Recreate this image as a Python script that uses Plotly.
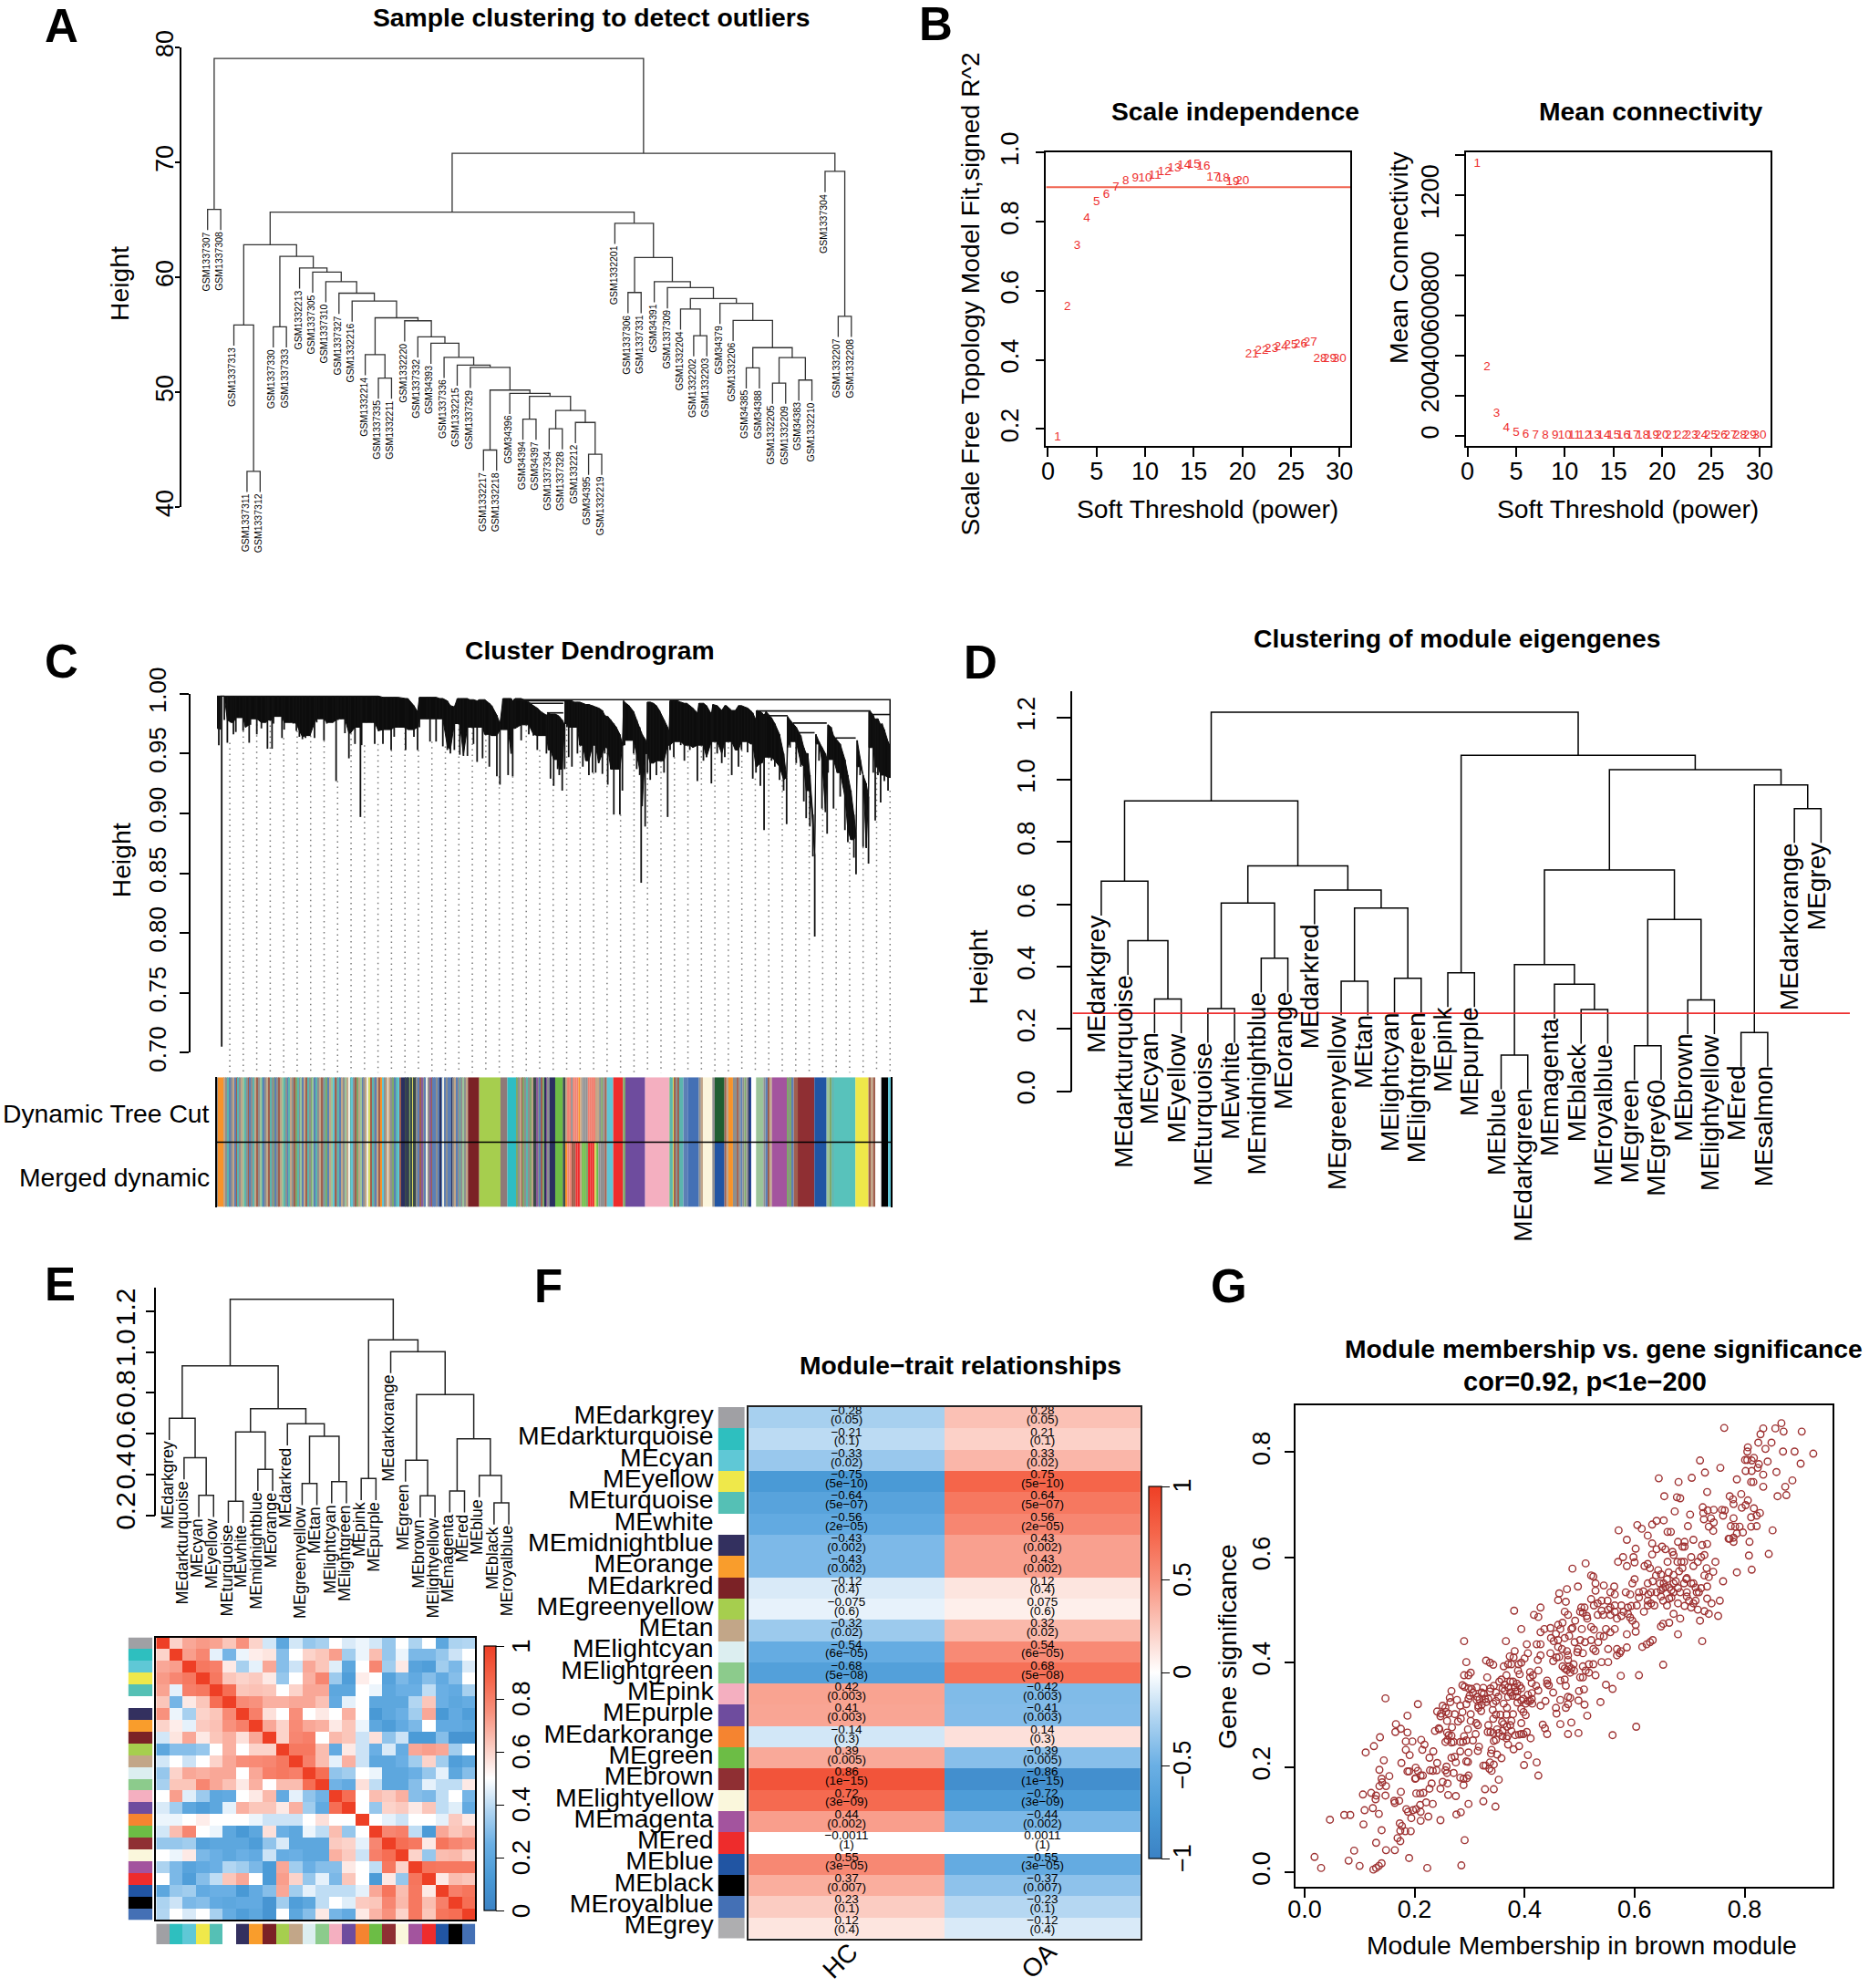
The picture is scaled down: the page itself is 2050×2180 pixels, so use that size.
import plotly.graph_objects as go

W, H = 2050, 2180
FONT = "Liberation Sans"
RED = "#EE2F2F"

# ---- A: sample tree
samples = ["GSM1337307","GSM1337308","GSM1337313","GSM1337311","GSM1337312","GSM1337330","GSM1337333","GSM1332213",
           "GSM1337305","GSM1337310","GSM1337327","GSM1332216","GSM1332214","GSM1337335","GSM1332211","GSM1332220",
           "GSM1337332","GSM34393","GSM1337336","GSM1332215","GSM1337329","GSM1332217","GSM1332218","GSM34396",
           "GSM34394","GSM34397","GSM1337334","GSM1337328","GSM1332212","GSM34395","GSM1332219","GSM1332201",
           "GSM1337306","GSM1337331","GSM34391","GSM1337309","GSM1332204","GSM1332202","GSM1332203","GSM34379",
           "GSM1332206","GSM34385","GSM34388","GSM1332205","GSM1332209","GSM34383","GSM1332210","GSM1337304",
           "GSM1332207","GSM1332208"]
# hclust style: negative = leaf number, positive = earlier merge row
sample_merge = [(-1,-2,65.90),(-4,-5,43.11),(-3,2,55.85),(-6,-7,55.69),(-14,-15,51.22),(-13,5,53.26),(-22,-23,44.96),
                (-25,-26,47.65),(-27,-28,46.81),(-30,-31,44.60),(-29,10,47.36),(9,11,48.40),(8,12,49.63),(-24,13,49.89),
                (7,14,50.18),(-21,15,52.16),(-20,16,52.35),(-19,17,53.03),(-18,18,54.26),(-17,19,54.81),(-16,20,56.21),
                (6,21,56.47),(-12,22,57.93),(-11,23,58.61),(-10,24,59.61),(-9,25,60.45),(-8,26,60.81),(4,27,61.82),
                (3,28,62.82),(-33,-34,58.67),(-38,-39,54.91),(-37,31,57.24),(-42,-43,52.12),(-44,-45,50.79),
                (-46,-47,51.05),(34,35,53.00),(33,36,53.87),(-41,37,56.24),(-40,38,57.73),(32,39,58.15),(-36,40,59.09),
                (-35,41,59.61),(30,42,61.72),(-32,43,64.70),(29,44,65.67),(-49,-50,56.60),(-48,46,69.21),(45,47,70.79),
                (1,48,79.03)]

# ---- B: soft threshold
powers = list(range(1, 31))
scale_fit = [.177,.554,.731,.809,.856,.878,.900,.916,.925,.925,.932,.944,.954,.961,.966,.959,.928,.924,.914,.916,
             .417,.426,.433,.438,.443,.445,.449,.402,.403,.404]
mean_conn = [1358,345,111,37,15,6,3,2,1,1,1,1,1,1,1,1,1,0,0,0,0,0,0,0,0,0,0,0,0,0]

# ---- C: gene tree, (position %, top height, bottom height) read along the tree
tree_rows = [(0,.998,.971),(.27,.998,.957),(.5,.998,.970),(.6,.998,.998),(.7,.998,.705),(.92,.998,.998),(1.09,.998,.978),
 (1.54,.998,.959),(2.08,.998,.976),(2.44,.998,.966),(2.8,.998,.968),(3.34,.998,.980),(3.88,.998,.969),(4.24,.998,.972),
 (4.78,.998,.959),(4.96,.998,.974),(5.69,.998,.979),(5.91,.998,.966),(6.59,.998,.971),(7.26,.998,.976),(7.49,.998,.954),
 (7.7,.998,.978),(8.17,.998,.954),(8.39,.998,.975),(9.07,.998,.981),(9.65,.998,.963),(9.97,.998,.970),(10.74,.998,.976),
 (11.32,.998,.975),(11.78,.998,.969),(12.23,.998,.964),(12.68,.998,.962),(13.13,.998,.963),(13.8,.998,.965),(14.48,.998,.963),
 (14.8,.998,.976),(15.16,.998,.979),(15.88,.998,.961),(16.3,.998,.975),(17.19,.998,.976),(17.68,.998,.927),(17.95,.998,.978),
 (18.4,.998,.979),(18.99,.998,.967),(19.58,.998,.946),(19.8,.998,.967),(20.48,.998,.958),(20.93,.998,.972),(21.29,.998,.897),
 (21.47,.998,.957),(22.15,.998,.976),(23.05,.998,.976),(23.41,.998,.958),(23.95,.998,.969),(24.63,.997,.958),(25.17,.997,.970),
 (25.85,.997,.953),(26.3,.997,.964),(26.88,.997,.972),(28.0,.996,.953),(28.33,.996,.970),(29.23,.990,.964),(29.77,.985,.953),
 (30.04,.997,.972),(31.17,.997,.979),(31.62,.997,.960),(32.52,.997,.960),(33.06,.996,.979),(33.52,.996,.956),(34.19,.994,.953),
 (34.64,.990,.950),(35.23,.989,.953),(35.68,.996,.975),(36.04,.996,.949),(36.58,.996,.948),(37.17,.996,.948),(37.49,.995,.972),
 (38.07,.995,.958),(38.61,.994,.943),(38.93,.995,.972),(39.42,.995,.946),(39.74,.995,.966),(40.42,.992,.939),(40.78,.990,.965),
 (41.54,.982,.931),(42.0,.975,.924),(42.45,.996,.970),(43.21,.996,.932),(43.66,.996,.950),(43.89,.994,.931),(44.25,.996,.971),
 (45.15,.996,.961),(45.6,.995,.974),(46.28,.993,.966),(46.96,.990,.965),(47.54,.988,.953),(48.09,.985,.965),(48.9,.982,.950),
 (49.2,.984,.953),(49.5,.983,.929),(49.97,.983,.923),(50.2,.983,.945),(50.56,.982,.937),(50.8,.981,.932),(51.24,.978,.919),
 (51.6,.974,.937),(51.69,.994,.975),(51.95,.994,.972),(52.2,.994,.947),(52.68,.994,.939),(53.04,.993,.972),(53.5,.993,.950),
 (53.85,.993,.957),(54.3,.992,.939),(54.75,.991,.944),(55.2,.991,.932),(55.75,.990,.934),(56.1,.989,.957),(56.2,.989,.934),
 (56.65,.988,.942),(57.2,.986,.933),(57.55,.982,.950),(57.8,.981,.955),(58.0,.981,.924),(58.45,.978,.937),(58.9,.975,.899),
 (59.27,.972,.937),(59.8,.966,.899),(60.17,.958,.919),(60.35,.994,.957),(60.5,.993,.957),(61.16,.990,.961),(61.84,.985,.950),
 (62.3,.978,.937),(62.74,.972,.932),(62.96,.968,.842),(63.1,.966,.906),(63.55,.962,.889),(63.78,.958,.950),(63.9,.993,.934),
 (64.3,.993,.928),(64.77,.992,.942),(65.22,.990,.932),(65.67,.986,.944),(66.35,.978,.934),(66.89,.972,.897),(67.1,.968,.957),
 (67.25,.994,.953),(67.8,.994,.947),(68.38,.994,.960),(68.83,.993,.957),(69.37,.992,.944),(69.73,.992,.957),(70.18,.990,.953),
 (70.63,.988,.955),(71.3,.984,.927),(71.55,.992,.957),(72.2,.992,.944),(72.66,.990,.947),(73.38,.983,.925),(73.6,.991,.960),
 (74.24,.990,.950),(74.92,.986,.942),(75.37,.990,.947),(75.6,.990,.960),(76.4,.986,.932),(76.94,.986,.953),(77.4,.990,.939),
 (77.85,.990,.953),(78.3,.989,.960),(78.75,.988,.951),(79.2,.986,.958),(79.52,.984,.929),(80.0,.978,.934),(80.1,.986,.939),
 (80.65,.985,.923),(80.9,.984,.942),(81.2,.982,.886),(81.5,.985,.947),(82.3,.980,.944),(82.8,.975,.939),(83.5,.966,.928),
 (84.1,.950,.919),(84.55,.930,.891),(84.7,.981,.955),(85.06,.978,.955),(85.5,.975,.960),(85.97,.972,.942),(86.65,.965,.939),
 (87.1,.955,.910),(87.45,.950,.896),(87.7,.950,.919),(88.0,.932,.889),(88.45,.899,.864),(88.72,.866,.797),(88.9,.966,.958),
 (89.35,.960,.944),(89.8,.955,.904),(90.3,.950,.901),(90.56,.945,.883),(90.7,.974,.934),(91.15,.972,.945),(91.51,.965,.904),
 (92.06,.961,.934),(92.5,.958,.914),(93.2,.945,.886),(93.63,.932,.876),(94.08,.919,.878),(94.53,.899,.863),(94.85,.882,.849),
 (95.02,.961,.939),(95.45,.945,.932),(95.9,.932,.872),(96.36,.925,.871),(96.7,.914,.858),(96.8,.985,.955),(97.0,.985,.955),
 (97.4,.982,.934),(97.7,.978,.894),(97.8,.979,.939),(98.1,.979,.932),(98.5,.974,.909),(98.7,.975,.932),(99.05,.970,.927),
 (99.6,.960,.919),(100,.955,.930)]
# connecting branches above the clusters (from %, to %, height)
tree_links = [(44,100,.995),(45,51.69,.994),(46.3,51.4,.992),(48.98,51.4,.984),(80.1,97,.9856),(97,100,.9826),
              (80.8,84.7,.9816),(85.5,90.5,.9755),(86.4,88.7,.9674),(91.8,94.8,.963)]

palette = {"s":"#8E8F90","o":"#F7932B","t":"#5BB5AE","b":"#5C7FB5","n":"#C2A688","r":"#A0604E","g":"#7FA86A",
           "l":"#9CC49A","p":"#8A5A9A","c":"#5FC5D5","k":"#2A3060","y":"#D8D860","w":"#EFEFE4","m":"#A3549E",
           "f":"#F08070","d":"#3A4A4C","R":"#7B2226","G":"#A6CE4E","M":"#8F7A78","C":"#2EBDC4","V":"#6CBD45",
           "E":"#EE2C2C","P":"#6E4C9E","K":"#F4AFC0","B":"#4470B5","L":"#FBF5DC","D":"#1F3F8F","W":"#FFFFFF",
           "N":"#8F2F33","A":"#2155A3","T":"#58C2BB","Y":"#EFE84A","X":"#000000","Z":"#1F5E32"}
left_stripes = "nstbsnbrtsnltsrbstnrsltbsnrtsgbsrnltsbtnsrgtslbnrtsglbtsnrstgbnlcrstbnslnwtcsrgnlbsnwyrtsbnrocsnwnsgbtcr"
mid_stripes = "sbrpsbwsprbbsbkbwbsbbksnbstslsn"
zones_head = [(0,.13,"s"),(.13,1.08,"o"),(1.08,27.33,left_stripes),(27.33,28,"k"),(28,29.6,"dkdgdydd"),(29.6,37.25,mid_stripes),
              (37.25,38.92,"R"),(38.92,42.08,"G"),(42.08,43.1,"M"),(43.1,44.47,"C"),(44.47,46.95,"gsnrgstsgn"),(46.95,47.4,"d"),
              (47.4,49.34,"psbrgkps"),(49.34,50.2,"k"),(50.2,51.33,"V"),(51.33,51.69,"d")]
zones_mix_dyn = [(51.69,57.55,"nffsfffonsssffffnnsgs")]
zones_mix_mer = [(51.69,57.55,"offrrEEnVVgEEEyVsss")]
zones_mid = [(57.55,57.87,"r"),(57.87,58.81,"c"),(58.81,60.26,"E"),(60.26,60.62,"g"),(60.62,63.55,"P"),(63.55,67.11,"K"),
             (67.11,67.92,"lty"),(67.92,68.6,"rsr"),(68.6,69.86,"tb"),(69.86,71.53,"B"),(71.53,72.12,"sn"),(72.12,73.52,"L"),(73.52,73.88,"s")]
zones_dyn_gene = [(73.88,75.32,"Z")]
zones_mer_gene = [(73.88,75.32,"A")]
zones_tail = [(75.32,75.91,"rn"),(75.91,76.58,"o"),(76.58,79.11,"ssrsbsgsk"),(79.11,79.29,"D"),(79.29,80.01,"W"),(80.01,81.1,"l"),
              (81.1,82.36,"sbrn"),(82.36,84.62,"m"),(84.62,85.6,"gsgb"),(85.6,86.2,"r"),(86.2,88.67,"N"),(88.67,90.48,"A"),
              (90.48,91.6,"lgt"),(91.6,94.76,"T"),(94.76,96.7,"Y"),(96.7,97.7,"rnr"),(97.7,98.6,"W"),(98.6,99.6,"X"),(99.6,100,"c")]

# ---- D: eigengene tree
d_labels = ["MEdarkgrey","MEdarkturquoise","MEcyan","MEyellow","MEturquoise","MEwhite","MEmidnightblue","MEorange","MEdarkred",
            "MEgreenyellow","MEtan","MElightcyan","MElightgreen","MEpink","MEpurple","MEblue","MEdarkgreen","MEmagenta","MEblack",
            "MEroyalblue","MEgreen","MEgrey60","MEbrown","MElightyellow","MEred","MEsalmon","MEdarkorange","MEgrey"]
d_merge = [(-3,-4,.296),(-2,1,.483),(-1,2,.674),(-5,-6,.265),(-7,-8,.427),(4,5,.604),(-10,-11,.353),(-12,-13,.362),(7,8,.588),
           (-9,9,.646),(6,10,.723),(3,11,.932),(-14,-15,.380),(-16,-17,.116),(-19,-20,.262),(-18,15,.343),(14,16,.406),
           (-21,-22,.146),(-23,-24,.293),(18,19,.551),(17,20,.710),(-25,-26,.188),(-27,-28,.907),(22,23,.983),(21,24,1.032),
           (13,25,1.078),(12,26,1.217)]

# ---- E: merged eigengene tree and adjacency
e_labels = ["MEdarkgrey","MEdarkturquoise","MEcyan","MEyellow","MEturquoise","MEwhite","MEmidnightblue","MEorange","MEdarkred",
            "MEgreenyellow","MEtan","MElightcyan","MElightgreen","MEpink","MEpurple","MEdarkorange","MEgreen","MEbrown",
            "MElightyellow","MEmagenta","MEred","MEblue","MEblack","MEroyalblue"]
e_merge = [(-3,-4,.297),(-2,1,.4815),(-1,2,.675),(-5,-6,.268),(-7,-8,.425),(4,5,.608),(-10,-11,.355),(-12,-13,.364),(7,8,.587),
           (-9,9,.648),(6,10,.7225),(3,11,.932),(-14,-15,.38),(-20,-21,.319),(-23,-24,.26),(-22,15,.394),(14,16,.574),
           (-18,-19,.295),(-17,18,.47),(19,17,.792),(-16,20,1.002),(13,21,1.06),(12,22,1.259)]
e_colors = ["#A0A0A4","#2EBFBF","#5FC8D6","#EFE84A","#55C0B5","#FFFFFF","#33305F","#F99D2C","#7B2226","#A6CE4E","#C2A688","#DCEEF0",
            "#8CCB8C","#F4AFC0","#6E4C9E","#F58430","#6CBD45","#8F2F33","#FAF7DC","#A3549E","#EE2C2C","#2155A3","#000000","#4470B5"]
adjacency_upper = [
 [1,.6,.7,.73,.71,.63,.75,.6,.43,.2,.43,.33,.36,.5,.44,.47,.43,.33,.5,.37,.5,.2,.37,.38],
 [1,.72,.78,.46,.27,.47,.54,.56,.3,.5,.6,.63,.72,.35,.47,.65,.33,.47,.28,.28,.33,.42,.5],
 [1,.82,.8,.55,.36,.46,.7,.3,.42,.7,.63,.45,.2,.5,.78,.35,.55,.18,.15,.35,.28,.44],
 [1,.82,.63,.6,.62,.55,.33,.5,.68,.78,.34,.15,.54,.5,.17,.28,.22,.3,.22,.3,.5],
 [1,.85,.63,.64,.63,.5,.6,.7,.7,.2,.2,.5,.47,.2,.25,.25,.4,.25,.22,.36],
 [1,.77,.75,.68,.68,.7,.7,.64,.22,.46,.5,.2,.2,.2,.38,.63,.25,.2,.23],
 [1,.8,.57,.5,.76,.5,.55,.5,.68,.5,.12,.2,.25,.35,.7,.12,.22,.15],
 [1,.7,.6,.77,.7,.68,.55,.63,.47,.2,.14,.22,.28,.5,.22,.22,.2],
 [1,.6,.78,.8,.5,.66,.63,.42,.57,.32,.42,.13,.13,.3,.1,.1],
 [1,.82,.82,.65,.22,.55,.42,.25,.44,.23,.7,.72,.7,.35,.5],
 [1,.8,.65,.46,.68,.42,.2,.2,.25,.35,.6,.35,.15,.2],
 [1,.85,.32,.35,.5,.47,.2,.2,.25,.33,.46,.2,.3],
 [1,.26,.22,.57,.4,.2,.2,.3,.46,.4,.4,.55],
 [1,.85,.5,.65,.62,.68,.3,.28,.4,.5,.27],
 [1,.5,.33,.6,.62,.55,.63,.4,.45,.22],
 [1,.5,.46,.42,.5,.5,.46,.62,.55],
 [1,.78,.8,.4,.13,.7,.63,.67],
 [1,.85,.82,.55,.83,.78,.75],
 [1,.6,.33,.65,.66,.6],
 [1,.83,.82,.82,.82],
 [1,.55,.65,.63],
 [1,.8,.83],
 [1,.85],
 [1]]

# ---- F: module-trait table
f_modules = e_labels + ["MEgrey"]
f_colors = e_colors + ["#AEAEB0"]
cor_hc = [-.28,-.21,-.33,-.75,-.64,-.56,-.43,-.43,-.12,-.075,-.32,-.54,-.68,.42,.41,-.14,.39,.86,.72,.44,-.0011,.55,.37,.23,.12]
p_labels = ["0.05","0.1","0.02","5e−10","5e−07","2e−05","0.002","0.002","0.4","0.6","0.02","6e−05","5e−08","0.003","0.003","0.3",
            "0.005","1e−15","3e−09","0.002","1","3e−05","0.007","0.1","0.4"]
traits = ["HC", "OA"]

# ---- G: membership vs significance
gene_points = [(.018,.029),(.030,.008),(.046,.100),(.072,.109),(.083,.109),(.080,.022),(.090,.041),(.100,.012),(.107,.091),(.106,.148),
 (.109,.118),(.111,.228),(.121,.151),(.124,.122),(.125,.005),(.130,.008),(.135,.012),(.140,.017),(.130,.056),(.135,.111),(.129,.139),
 (.130,.146),(.126,.240),(.137,.257),(.136,.195),(.140,.080),(.148,.042),(.164,.042),(.190,.027),(.223,.008),(.285,.013),(.291,.061),
 (.144,.213),(.140,.178),(.141,.171),(.136,.164),(.148,.164),(.147,.146),(.154,.183),(.147,.331),(.166,.282),(.165,.267),(.175,.273),
 (.187,.298),(.187,.266),(.184,.249),(.196,.249),(.206,.320),(.212,.252),(.218,.243),(.214,.233),(.234,.230),(.184,.233),(.191,.223),
 (.176,.208),(.202,.199),(.206,.193),(.187,.192),(.190,.192),(.211,.184),(.215,.184),(.202,.179),(.201,.178),(.203,.150),(.210,.150),
 (.216,.151),(.175,.153),(.164,.132),(.163,.136),(.172,.136),(.185,.120),(.188,.115),(.197,.118),(.203,.120),(.211,.115),(.210,.128),
 (.194,.103),(.211,.098),(.225,.106),(.247,.099),(.173,.093),(.177,.088),(.174,.079),(.183,.078),(.193,.078),(.169,.065),(.174,.059),
 (.221,.133),(.233,.130),(.227,.159),(.231,.169),(.228,.194),(.233,.193),(.227,.218),(.241,.208),(.240,.194),(.251,.172),(.256,.194),
 (.258,.201),(.260,.169),(.261,.147),(.275,.145),(.276,.110),(.284,.114),(.298,.130),(.325,.135),(.328,.158),(.344,.158),(.347,.125),
 (.353,.176),(.283,.180),(.289,.166),(.289,.178),(.295,.179),(.298,.184),(.294,.211),(.297,.210),(.271,.189),(.267,.218),(.273,.220),
 (.283,.230),(.298,.228),(.317,.239),(.315,.231),(.325,.203),(.329,.203),(.337,.209),(.339,.226),(.340,.233),(.336,.197),(.340,.193),
 (.344,.205),(.350,.224),(.358,.217),(.344,.250),(.348,.252),(.399,.204),(.406,.223),(.422,.209),(.425,.184),(.237,.269),(.244,.274),
 (.256,.248),(.260,.252),(.259,.266),(.268,.276),(.262,.261),(.267,.260),(.271,.248),(.283,.248),(.288,.248),(.290,.259),(.297,.272),
 (.279,.287),(.284,.292),(.302,.301),(.302,.288),(.312,.284),(.315,.280),(.311,.263),(.333,.267),(.338,.267),(.343,.265),(.334,.280),
 (.343,.292),(.348,.300),(.356,.300),(.362,.282),(.367,.300),(.359,.286),(.353,.265),(.360,.269),(.368,.277),(.374,.280),(.376,.269),
 (.369,.259),(.383,.261),(.390,.262),(.394,.263),(.398,.263),(.404,.267),(.411,.255),(.370,.243),(.380,.234),(.390,.240),(.433,.281),
 (.437,.274),(.441,.263),(.465,.282),(.479,.263),(.485,.285),(.498,.265),(.560,.261),(.603,.277),(.241,.306),(.248,.302),(.257,.305),
 (.262,.302),(.247,.297),(.256,.313),(.264,.332),(.267,.345),(.265,.324),(.277,.328),(.287,.305),(.294,.320),(.300,.336),(.304,.349),
 (.287,.356),(.291,.353),(.298,.350),(.313,.352),(.314,.334),(.318,.329),(.322,.342),(.326,.340),(.328,.330),(.316,.317),(.322,.319),
 (.321,.307),(.330,.324),(.337,.344),(.338,.350),(.344,.355),(.348,.326),(.352,.334),(.354,.363),(.360,.350),(.364,.346),(.364,.357),
 (.370,.352),(.374,.363),(.378,.336),(.383,.352),(.383,.344),(.391,.355),(.394,.350),(.387,.323),(.394,.327),(.394,.311),(.398,.305),
 (.402,.299),(.402,.321),(.410,.326),(.414,.321),(.406,.338),(.413,.341),(.421,.355),(.425,.346),(.429,.317),(.438,.326),(.413,.360),
 (.441,.365),(.444,.356),(.452,.342),(.457,.313),(.458,.302),(.465,.328),(.475,.313),(.479,.334),(.479,.320),(.483,.332),(.499,.345),
 (.508,.348),(.498,.327),(.509,.319),(.514,.298),(.538,.324),(.548,.357),(.560,.349),(.575,.374),(.608,.375),(.652,.395),(.370,.334),
 (.387,.344),(.330,.403),(.337,.399),(.343,.395),(.290,.440),(.294,.400),(.290,.375),(.298,.375),(.302,.380),(.332,.371),(.362,.392),
 (.366,.440),(.370,.396),(.373,.411),(.376,.396),(.382,.421),(.380,.409),(.389,.396),(.394,.399),(.388,.384),(.391,.377),(.400,.407),
 (.404,.434),(.406,.417),(.410,.371),(.410,.381),(.415,.375),(.425,.384),(.424,.404),(.422,.434),(.429,.434),(.429,.413),(.441,.359),
 (.447,.417),(.452,.402),(.458,.409),(.463,.410),(.448,.446),(.453,.440),(.461,.442),(.473,.446),(.461,.429),(.468,.425),(.477,.421),
 (.479,.413),(.479,.404),(.481,.392),(.477,.385),(.483,.380),(.469,.392),(.465,.365),(.473,.367),(.475,.355),(.485,.388),(.490,.384),
 (.496,.419),(.501,.442),(.510,.438),(.506,.417),(.501,.371),(.506,.392),(.511,.384),(.517,.396),(.525,.396),(.529,.375),(.529,.421),
 (.521,.442),(.534,.438),(.540,.400),(.552,.400),(.552,.425),(.556,.457),(.564,.463),(.568,.425),(.568,.413),(.575,.421),(.573,.417),
 (.586,.428),(.586,.453),(.602,.458),(.614,.429),(.622,.434),(.628,.438),(.633,.442),(.544,.449),(.381,.498),(.394,.463),(.417,.490),
 (.425,.486),(.429,.504),(.429,.457),(.436,.463),(.447,.465),(.461,.471),(.469,.475),(.485,.463),(.473,.496),(.475,.515),(.479,.490),
 (.492,.479),(.487,.465),(.504,.463),(.503,.504),(.509,.504),(.501,.496),(.506,.494),(.513,.488),(.514,.483),(.521,.467),(.526,.462),
 (.521,.520),(.526,.508),(.533,.512),(.533,.490),(.540,.498),(.543,.490),(.552,.500),(.551,.517),(.564,.508),(.564,.496),(.576,.508),
 (.576,.488),(.588,.504),(.592,.485),(.596,.479),(.602,.471),(.617,.496),(.625,.529),(.624,.508),(.630,.512),(.624,.517),(.648,.468),
 (.652,.473),(.663,.475),(.671,.492),(.679,.453),(.683,.483),(.636,.508),(.648,.525),(.652,.517),(.659,.508),(.663,.521),(.667,.523),
 (.679,.512),(.691,.507),(.699,.517),(.703,.504),(.711,.517),(.719,.479),(.723,.440),(.727,.497),(.735,.492),(.740,.512),(.752,.488),
 (.755,.517),(.732,.521),(.463,.531),(.461,.518),(.477,.539),(.487,.578),(.497,.544),(.511,.588),(.521,.565),(.525,.563),(.529,.550),
 (.529,.536),(.544,.546),(.556,.533),(.563,.544),(.564,.529),(.570,.591),(.579,.600),(.586,.583),(.584,.533),(.592,.529),(.598,.600),
 (.600,.590),(.596,.550),(.600,.558),(.608,.533),(.616,.535),(.618,.583),(.624,.587),(.628,.579),(.633,.554),(.639,.565),(.648,.567),
 (.643,.575),(.652,.541),(.648,.537),(.656,.543),(.659,.558),(.662,.571),(.667,.537),(.671,.550),(.675,.554),(.679,.541),(.678,.591),
 (.685,.591),(.687,.579),(.681,.573),(.694,.558),(.695,.560),(.707,.550),(.713,.533),(.727,.565),(.721,.541),(.732,.544),(.731,.579),
 (.735,.562),(.743,.572),(.747,.591),(.761,.554),(.786,.571),(.813,.576),(.844,.606),(.808,.603),(.721,.600),(.727,.604),(.707,.583),
 (.715,.591),(.703,.600),(.690,.591),(.669,.610),(.691,.620),(.707,.633),(.691,.629),(.723,.623),(.732,.625),(.571,.651),(.586,.633),
 (.602,.616),(.605,.661),(.613,.654),(.624,.641),(.632,.626),(.632,.605),(.640,.615),(.650,.620),(.656,.615),(.632,.662),(.640,.669),
 (.653,.670),(.660,.648),(.666,.648),(.671,.604),(.679,.629),(.687,.620),(.673,.687),(.644,.750),(.654,.716),(.677,.714),(.683,.712),
 (.680,.743),(.697,.659),(.701,.681),(.704,.751),(.719,.784),(.728,.761),(.756,.770),(.763,.846),(.786,.748),(.732,.724),(.724,.695),
 (.725,.684),(.733,.689),(.726,.672),(.735,.658),(.739,.674),(.743,.650),(.744,.666),(.744,.690),(.759,.690),(.764,.689),(.761,.679),
 (.771,.635),(.773,.635),(.780,.629),(.780,.637),(.775,.659),(.780,.674),(.783,.658),(.786,.645),(.791,.658),(.797,.647),(.773,.716),
 (.779,.710),(.780,.701),(.794,.720),(.795,.694),(.802,.699),(.806,.708),(.809,.629),(.812,.658),(.812,.676),(.817,.693),(.822,.679),
 (.822,.659),(.828,.684),(.851,.651),(.802,.764),(.813,.764),(.824,.770),(.834,.757),(.812,.743),(.816,.743),(.834,.734),(.801,.785),
 (.805,.785),(.813,.784),(.817,.789),(.805,.801),(.806,.809),(.826,.777),(.842,.782),(.858,.762),(.860,.716),(.874,.734),(.876,.718),
 (.887,.746),(.902,.778),(.891,.801),(.870,.801),(.925,.797),(.904,.839),(.871,.839),(.867,.855),(.856,.845),(.834,.845),(.829,.834),
 (.849,.818),(.838,.806),(.825,.818),(.298,.330),(.306,.342),(.313,.328),(.316,.313),(.325,.351),(.334,.330),(.343,.321),(.348,.342),
 (.358,.367),(.367,.375),(.374,.342),(.379,.363),(.386,.359),(.398,.330),(.406,.326),(.413,.330),(.368,.313),(.376,.288),(.379,.301),
 (.386,.334),(.394,.284),(.360,.259),(.367,.255),(.342,.309),(.350,.272),(.362,.321),(.283,.317),(.273,.301),(.259,.288),(.251,.317),
 (.245,.272),(.267,.247),(.306,.251),(.294,.251),(.275,.209),(.259,.189),(.247,.159),(.457,.454),(.465,.463),(.481,.450),(.491,.438),
 (.497,.425),(.473,.388),(.489,.396),(.506,.371),(.517,.380),(.525,.425),(.537,.450),(.548,.463),(.556,.490),(.540,.517),(.556,.504),
 (.568,.483),(.580,.496),(.588,.492),(.594,.507),(.604,.508),(.608,.523),(.640,.533),(.646,.550),(.653,.550),(.663,.542),(.671,.533),
 (.683,.533),(.690,.550),(.695,.533),(.703,.550),(.711,.542),(.717,.533),(.624,.550),(.630,.533),(.660,.591),(.671,.566),(.695,.525),
 (.707,.512),(.715,.500)]

blue_white_red = [[0,"#3B82C4"],[.125,"#4A9AD6"],[.25,"#6AAFE4"],[.375,"#AFD4F1"],[.5,"#FFFFFF"],
                  [.625,"#FBC8BD"],[.75,"#F8917D"],[.875,"#F5654A"],[1,"#EE3F25"]]

fig = go.Figure()
axis_no = 1
layout_axes = {}
notes = []


def new_axes(x0, x1, top, bottom, xopts=None, yopts=None):
    # positions given in image pixels, y counted from the top
    global axis_no
    axis_no += 1
    n = axis_no
    layout_axes[f"xaxis{n}"] = dict(domain=[x0 / W, x1 / W], anchor=f"y{n}", **(xopts or dict(visible=False)))
    layout_axes[f"yaxis{n}"] = dict(domain=[1 - bottom / H, 1 - top / H], anchor=f"x{n}", **(yopts or dict(visible=False)))
    return f"x{n}", f"y{n}"


def r_axis(vals, size=27, angle=0, length=10, box=False, text=None, standoff=0):
    return dict(showgrid=False, zeroline=False, showline=True, linecolor="black", linewidth=1.5, ticks="outside",
                ticklen=length, tickwidth=1.5, tickcolor="black", tickmode="array", tickvals=vals, tickangle=angle,
                ticktext=text or [str(v) for v in vals], tickfont=dict(size=size, color="black"), mirror=box,
                ticklabelstandoff=standoff)


def note(x, y, text, size=28.3, bold=False, angle=0, xanchor="center", yanchor="middle", xref="paper", yref="paper", xshift=0, yshift=0):
    if xref == "paper":
        x = x / W
    if yref == "paper":
        y = 1 - y / H
    notes.append(dict(x=x, y=y, xref=xref, yref=yref, text=f"<b>{text}</b>" if bold else text, showarrow=False,
                      textangle=angle, xanchor=xanchor, yanchor=yanchor, borderpad=0, xshift=xshift, yshift=yshift,
                      font=dict(size=size, color="black", family=FONT)))


def tree_lines(merge, hang):
    # leaf positions are just 1..n in plotting order
    xs, ys, leaves = [], [], []
    node_x = {}
    for row, (a, b, h) in enumerate(merge, start=1):
        ends = []
        for c in (a, b):
            if c < 0:
                ends.append((-c, h - hang))
                leaves.append((-c, h - hang))
            else:
                ends.append((node_x[c], merge[c - 1][2]))
        xs += [ends[0][0], ends[0][0], ends[1][0], ends[1][0], None]
        ys += [ends[0][1], h, h, ends[1][1], None]
        node_x[row] = (ends[0][0] + ends[1][0]) / 2
    return xs, ys, leaves


def add_tree(merge, labels, hang, xa, ya, size, width, color="black", xshift=0, yshift=0):
    xs, ys, leaves = tree_lines(merge, hang)
    fig.add_trace(go.Scatter(x=xs, y=ys, mode="lines", line=dict(color=color, width=width), xaxis=xa, yaxis=ya))
    for leaf, h in leaves:
        note(leaf, h - hang * 0.04, labels[leaf - 1], size=size, angle=-90, yanchor="top",
             xref=xa, yref=ya, xshift=xshift, yshift=yshift)


def color_strip(colors, xa, ya, horizontal=False):
    scale = [[i / (len(colors) - 1), c] for i, c in enumerate(colors)]
    idx = list(range(len(colors)))
    z = [idx] if horizontal else [[i] for i in idx]
    fig.add_trace(go.Heatmap(z=z, colorscale=scale, zmin=0, zmax=len(colors) - 1, showscale=False, xaxis=xa, yaxis=ya))


# ---------- A
a_x0 = 1 - (227.7 - 199) / 14.41
a_x1 = 1 + (960 - 227.7) / 14.41
xa, ya = new_axes(199, 960, 52, 556, dict(visible=False, range=[a_x0, a_x1]),
                  dict(range=[40, 80], **r_axis([40, 50, 60, 70, 80], angle=-90, length=5, standoff=-9)))
add_tree(sample_merge, samples, 1.8, xa, ya, 10.5, 1.3, "#333333", xshift=-2)
note(649, 19.5, "Sample clustering to detect outliers", bold=True)
note(131, 311, "Height", angle=-90)

# ---------- B
xa, ya = new_axes(1147.4, 1481, 166.5, 489.4, dict(range=[-.19, 31.1], **r_axis(list(range(0, 31, 5)), box=True, standoff=-8)),
                  dict(range=[.15, 1.002], **r_axis([.2, .4, .6, .8, 1.0], angle=-90, box=True, standoff=8,
                                                    text=["0.2", "0.4", "0.6", "0.8", "1.0"])))
fig.add_trace(go.Scatter(x=[-.19, 31.1], y=[.9, .9], mode="lines", line=dict(color="#F0604E", width=2), xaxis=xa, yaxis=ya))
fig.add_trace(go.Scatter(x=powers, y=scale_fit, mode="text", text=powers, textfont=dict(size=13.5, color=RED), xaxis=xa, yaxis=ya))
xa, ya = new_axes(1607.5, 1941.7, 166.5, 489.4, dict(range=[-.19, 31.1], **r_axis(list(range(0, 31, 5)), box=True, standoff=-8)),
                  dict(range=[-52, 1417], **r_axis([0, 200, 400, 600, 800, 1000, 1200, 1400], angle=-90, box=True, standoff=7,
                                                   text=["0", "200", "400", "600", "800", "", "1200", ""])))
fig.add_trace(go.Scatter(x=powers, y=mean_conn, mode="text", text=powers, textfont=dict(size=13.5, color=RED), xaxis=xa, yaxis=ya))
note(1355, 122, "Scale independence", bold=True)
note(1811, 122, "Mean connectivity", bold=True)
note(1324, 558, "Soft Threshold (power)")
note(1785, 558, "Soft Threshold (power)")
note(1063.6, 323, "Scale Free Topology Model Fit,signed R^2", angle=-90)
note(1534, 282, "Mean Connectivity", angle=-90)

# ---------- C
px_per_height = 1312
c_low = .70 - (1176.5 - 1154.4) / px_per_height
xa, ya = new_axes(238, 977, 760.7, 1176.5, dict(visible=False, range=[0, 100]), dict(visible=False, range=[c_low, 1.0]))
tree_pos = [r[0] for r in tree_rows]
tree_top = [r[1] for r in tree_rows]
tree_bottom = [r[2] for r in tree_rows]
guide_pos = [1.9 + 2.0 * i for i in range(50)]
gx, gy = [], []
for g in guide_pos:
    i = max(k for k, p in enumerate(tree_pos) if p <= g)
    gx += [g, g, None]
    gy += [tree_bottom[i], c_low, None]
fig.add_trace(go.Scatter(x=gx, y=gy, mode="lines", line=dict(color="#777777", width=1.5, dash="1.5px,4.5px"), xaxis=xa, yaxis=ya))
# solid body of the tree stops at the shallower neighbour, each reading then hangs below it as a thin branch
n_rows = len(tree_rows)
body_bottom = [max(tree_bottom[max(i - 1, 0)], tree_bottom[i], tree_bottom[min(i + 1, n_rows - 1)]) for i in range(n_rows)]
body_bottom = [min(b, t) for b, t in zip(body_bottom, tree_top)]
fig.add_trace(go.Scatter(x=tree_pos + tree_pos[::-1], y=tree_top + body_bottom[::-1], mode="lines", fill="toself", fillcolor="#0c0c0c",
                         line=dict(color="#0c0c0c", width=1), xaxis=xa, yaxis=ya))
sx, sy = [], []
for p, t, b in zip(tree_pos, tree_top, tree_bottom):
    sx += [p, p, None]
    sy += [t, b, None]
fig.add_trace(go.Scatter(x=sx, y=sy, mode="lines", line=dict(color="#111111", width=1.8), xaxis=xa, yaxis=ya))
lx, ly = [], []
for a, b, h in tree_links:
    lx += [a, b, None]
    ly += [h, h, None]
lx += [99.9, 99.9, None]
ly += [.995, .932, None]
fig.add_trace(go.Scatter(x=lx, y=ly, mode="lines", line=dict(color="#111111", width=1.6), xaxis=xa, yaxis=ya))
# visible height axis stops at 0.70, the tree axis carries on below it for the guides
xa, ya = new_axes(208.5, 977, 760.7, 1154.4, dict(visible=False, range=[0, 100]),
                  dict(range=[.70, 1.0], **r_axis([.7, .75, .8, .85, .9, .95, 1.0], size=26, angle=-90, standoff=4,
                                                  text=["0.70", "0.75", "0.80", "0.85", "0.90", "0.95", "1.00"])))
fig.add_trace(go.Scatter(x=[None], y=[None], xaxis=xa, yaxis=ya))

xa, ya = new_axes(238, 977, 1181.3, 1323.5,
                  dict(range=[0, 100], showgrid=False, zeroline=False, showticklabels=False, ticks=""),
                  dict(range=[-.5, 1.5], showgrid=False, zeroline=False, showticklabels=False, ticks="",
                       showline=True, linecolor="black", linewidth=1.5, mirror=True))


def strip_bars(zones, row):
    starts, widths, cols = [], [], []
    for a, b, codes in zones:
        step = (b - a) / len(codes)
        for i, code in enumerate(codes):
            starts.append(a + i * step)
            widths.append(step)
            cols.append(palette[code])
    fig.add_trace(go.Bar(y=[row] * len(starts), x=widths, base=starts, width=1, orientation="h",
                         marker=dict(color=cols, line=dict(width=0)), xaxis=xa, yaxis=ya))


strip_bars(zones_head + zones_mix_dyn + zones_mid + zones_dyn_gene + zones_tail, 1)
strip_bars(zones_head + zones_mix_mer + zones_mid + zones_mer_gene + zones_tail, 0)
fig.add_trace(go.Scatter(x=[0, 100], y=[.5, .5], mode="lines", line=dict(color="black", width=1.5), xaxis=xa, yaxis=ya))
note(647, 713, "Cluster Dendrogram", bold=True)
note(132.6, 943.7, "Height", angle=-90)
note(231, 1220.8, "Dynamic Tree Cut", xanchor="right")
note(231, 1291, "Merged dynamic", xanchor="right")

# ---------- D
d_x0 = 1 - (1207.9 - 1176.4) / 29.24
d_x1 = 1 + (2029 - 1207.9) / 29.24
xa, ya = new_axes(1176.4, 2029, 758, 1196.5, dict(visible=False, range=[d_x0, d_x1]),
                  dict(range=[0, 1.284], **r_axis([0, .2, .4, .6, .8, 1.0, 1.2], angle=-90, length=16, standoff=13,
                                                  text=["0.0", "0.2", "0.4", "0.6", "0.8", "1.0", "1.2"])))
add_tree(d_merge, d_labels, .11, xa, ya, 28, 1.5, xshift=-5, yshift=3)
fig.add_trace(go.Scatter(x=[d_x0, d_x1], y=[.25, .25], mode="lines", line=dict(color=RED, width=1.8), xaxis=xa, yaxis=ya))
note(1598, 699.5, "Clustering of module eigengenes", bold=True)
note(1072.5, 1061, "Height", angle=-90)

# ---------- E
e_x0 = 1 - (185.7 - 171.3) / 16.19
e_x1 = 1 + (575 - 185.7) / 16.19
e_top = 1411.7
e_base = 1661.5
e_per_unit = (e_base - 1437.9) / 1.0
xa, ya = new_axes(171.3, 575, e_top, e_base + .2 * e_per_unit, dict(visible=False, range=[e_x0, e_x1]),
                  dict(visible=False, range=[0, .2 + (e_base - e_top) / e_per_unit]))
add_tree(e_merge, e_labels, .106, xa, ya, 17.9, 1.5, "#222222", xshift=-2)
xa, ya = new_axes(171.3, 575, e_top, e_base, dict(visible=False, range=[e_x0, e_x1]),
                  dict(range=[.2, .2 + (e_base - e_top) / e_per_unit],
                       **r_axis([.2, .4, .6, .8, 1.0, 1.2], size=30, angle=-90,
                                text=["0.2", "0.4", "0.6", "0.8", "1.0", "1.2"])))
fig.add_trace(go.Scatter(x=[None], y=[None], xaxis=xa, yaxis=ya))

n_mod = len(e_labels)
adjacency = [[0] * n_mod for _ in range(n_mod)]
for i, row in enumerate(adjacency_upper):
    for k, v in enumerate(row):
        adjacency[i][i + k] = v
        adjacency[i + k][i] = v
xa, ya = new_axes(171.3, 521.3, 1795.5, 2105.4,
                  dict(showticklabels=False, ticks="", showgrid=False, zeroline=False, showline=True, linecolor="black",
                       linewidth=2, mirror=True),
                  dict(autorange="reversed", showticklabels=False, ticks="", showgrid=False, zeroline=False, showline=True,
                       linecolor="black", linewidth=2, mirror=True))
e_bar_ticks = [0, .2, .4, .6, .8, 1]
fig.add_trace(go.Heatmap(z=adjacency, colorscale=blue_white_red, zmin=0, zmax=1, xaxis=xa, yaxis=ya,
                         colorbar=dict(x=530.5 / W, xanchor="left", y=1 - 2095.3 / H, yanchor="bottom", len=290.3, lenmode="pixels",
                                       thickness=13.3, thicknessmode="pixels", xpad=0, ypad=0, outlinecolor="black", outlinewidth=1.2,
                                       ticks="outside", ticklen=9, tickcolor="black", tickmode="array", tickvals=e_bar_ticks,
                                       showticklabels=False)))
for v, t in zip(e_bar_ticks, ["0", "0.2", "0.4", "0.6", "0.8", "1"]):
    note(571, 2095.3 - v * 290.3, t, size=28, angle=-90)
xa, ya = new_axes(140.6, 167.2, 1795.5, 2105.4, dict(visible=False), dict(visible=False, autorange="reversed"))
color_strip(e_colors, xa, ya)
xa, ya = new_axes(171.3, 521.3, 2109.4, 2132, dict(visible=False), dict(visible=False))
color_strip(e_colors, xa, ya, horizontal=True)

# ---------- F
cor_oa = [-v for v in cor_hc]
rows = list(range(len(f_modules)))
xa, ya = new_axes(821.1, 1250.9, 1543, 2125.5,
                  dict(showticklabels=False, ticks="", showgrid=False, zeroline=False, showline=True, linecolor="#222222",
                       linewidth=1.5, mirror=True, range=[-.5, 1.5]),
                  dict(range=[len(rows) - .5, -.5], showticklabels=False, ticks="", showgrid=False, zeroline=False, showline=True,
                       linecolor="#222222", linewidth=1.5, mirror=True))
f_bar_ticks = [-1, -.5, 0, .5, 1]
fig.add_trace(go.Heatmap(z=[[h, o] for h, o in zip(cor_hc, cor_oa)], x=[0, 1], y=rows, colorscale=blue_white_red, zmin=-1, zmax=1,
                         xaxis=xa, yaxis=ya,
                         colorbar=dict(x=1259.6 / W, xanchor="left", y=1 - 2038 / H, yanchor="bottom", len=408.4, lenmode="pixels",
                                       thickness=13.8, thicknessmode="pixels", xpad=0, ypad=0, outlinecolor="black", outlinewidth=1.2,
                                       ticks="outside", ticklen=9, tickcolor="black", tickmode="array", tickvals=f_bar_ticks,
                                       showticklabels=False)))
for v, t in zip(f_bar_ticks, ["−1", "−0.5", "0", "0.5", "1"]):
    note(1297, 1833.8 - v * 204.2, t, size=27, angle=-90)
for col, vals in enumerate([cor_hc, cor_oa]):
    fig.add_trace(go.Scatter(x=[col] * len(rows), y=[r - .29 for r in rows], mode="text", cliponaxis=False,
                             text=[f"{v:g}".replace("-", "−") for v in vals], textfont=dict(size=13.5, color="black"), xaxis=xa, yaxis=ya))
    fig.add_trace(go.Scatter(x=[col] * len(rows), y=[r + .13 for r in rows], mode="text", cliponaxis=False,
                             text=[f"({p})" for p in p_labels], textfont=dict(size=13.5, color="black"), xaxis=xa, yaxis=ya))
xa, ya = new_axes(787.6, 817, 1543, 2125.5, dict(visible=False),
                  dict(range=[len(rows) - .5, -.5], tickmode="array", tickvals=[r - .15 for r in rows], ticktext=f_modules, ticks="", showgrid=False,
                       zeroline=False, showline=False, tickfont=dict(size=28.4, color="black"), ticklabelstandoff=4))
color_strip(f_colors, xa, ya)
note(1053, 1496.5, "Module−trait relationships", bold=True)
note(921, 2150, traits[0], size=28, angle=-45)
note(1139, 2150, traits[1], size=28, angle=-45)

# ---------- G
gx_vals = [p[0] for p in gene_points]
gy_vals = [p[1] for p in gene_points]
g_ticks = [0, .2, .4, .6, .8]
g_text = ["0.0", "0.2", "0.4", "0.6", "0.8"]
xa, ya = new_axes(1420.6, 2010, 1540.5, 2068.8, dict(range=[-.0172, .960], **r_axis(g_ticks, box=True, text=g_text, standoff=-10)),
                  dict(range=[-.0274, .890], **r_axis(g_ticks, angle=-90, box=True, text=g_text, standoff=5)))
fig.add_trace(go.Scatter(x=gx_vals, y=gy_vals, mode="markers", xaxis=xa, yaxis=ya,
                         marker=dict(symbol="circle-open", size=7.5, color="#9E3232", line=dict(width=1.4, color="#9E3232"))))
note(1759, 1479, "Module membership vs. gene significance", bold=True)
note(1738, 1515, "cor=0.92, p&lt;1e−200", size=29, bold=True)
note(1735, 2133, "Module Membership in brown module")
note(1345.5, 1805.6, "Gene significance", angle=-90)

# panel letters
for letter, lx_, ly_ in [("A", 67, 28), ("B", 1026, 27), ("C", 67, 726), ("D", 1075, 727), ("E", 66, 1408), ("F", 601, 1410), ("G", 1348, 1410)]:
    note(lx_, ly_, letter, size=51, bold=True)

fig.update_layout(width=W, height=H, margin=dict(l=0, r=0, t=0, b=0, autoexpand=False), paper_bgcolor="white", plot_bgcolor="rgba(0,0,0,0)",
                  showlegend=False, barmode="overlay", font=dict(family=FONT, color="black"), annotations=notes, **layout_axes)
fig.update_traces(hoverinfo="skip")
fig.write_html("out.html", post_script="document.body.style.margin='0';", config={"displayModeBar": False})
